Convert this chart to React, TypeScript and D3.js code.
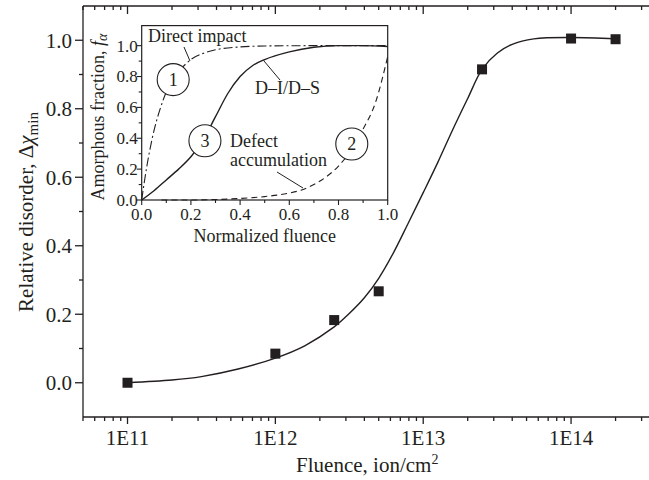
import React from "react";
import * as d3 from "d3";

// ---- Main chart data ----
const fluence = [1e11, 1e12, 2.5e12, 5e12, 2.5e13, 1e14, 2e14];
const disorder = [0.0, 0.085, 0.183, 0.267, 0.915, 1.005, 1.003];

// fitted curve
const fitFluence = [1e11, 2e11, 3.16e11, 5.6e11, 1e12, 1.58e12, 2.5e12, 3.16e12, 4e12, 5e12, 6.3e12, 7.9e12, 1e13, 1.26e13, 1.58e13, 2e13, 2.5e13, 3.16e13, 4e13, 5.6e13, 1e14, 2e14];
const fitDisorder = [0.0, 0.008, 0.018, 0.04, 0.072, 0.108, 0.163, 0.202, 0.248, 0.305, 0.38, 0.465, 0.555, 0.645, 0.738, 0.83, 0.915, 0.962, 0.988, 1.004, 1.008, 1.004];

const yTicks = [0, 0.2, 0.4, 0.6, 0.8, 1.0];
const yMinor = [0.1, 0.3, 0.5, 0.7, 0.9];
const xTicks = [1e11, 1e12, 1e13, 1e14];
const xTickLabels = ["1E11", "1E12", "1E13", "1E14"];

// ---- Inset data ----
const directX = [0.0, 0.01, 0.02, 0.035, 0.05, 0.075, 0.1, 0.13, 0.16, 0.2, 0.25, 0.3, 0.4, 0.5, 0.7, 1.0];
const directF = [0, 0.11, 0.21, 0.34, 0.45, 0.59, 0.7, 0.79, 0.85, 0.91, 0.95, 0.973, 0.992, 0.998, 1.0, 1.0];
const didsX = [0, 0.05, 0.1, 0.15, 0.2, 0.25, 0.3, 0.35, 0.4, 0.45, 0.5, 0.6, 0.7, 0.8, 0.9, 1.0];
const didsF = [0, 0.06, 0.13, 0.2, 0.28, 0.39, 0.54, 0.69, 0.8, 0.87, 0.91, 0.96, 0.99, 1.0, 1.0, 0.995];
const defectX = [0.08, 0.2, 0.3, 0.4, 0.5, 0.6, 0.65, 0.7, 0.75, 0.8, 0.85, 0.9, 0.95, 1.0];
const defectF = [0, 0.0, 0.003, 0.01, 0.022, 0.045, 0.065, 0.1, 0.15, 0.22, 0.32, 0.46, 0.63, 0.93];
const insetTicks = [0, 0.2, 0.4, 0.6, 0.8, 1.0];
const insetMinor = [0.1, 0.3, 0.5, 0.7, 0.9];

const INK = "#231f20";
const FONT = "'Liberation Serif', 'Times New Roman', serif";

export default function App() {
  const x = d3.scaleLog().domain([5e10, 3.5e14]).range([83, 651.5]);
  const y = d3.scaleLinear().domain([-0.1, 1.1]).range([417, 6]);
  const [x0, x1] = x.range();
  const [yb, yt] = y.range();

  const xMinor: number[] = [];
  for (let e = 10; e <= 14; e++) {
    for (let k = 2; k <= 9; k++) {
      const v = k * Math.pow(10, e);
      if (v >= 5e10 && v <= 3.5e14) xMinor.push(v);
    }
  }

  const fitLine = d3
    .line<number>()
    .x((_, i) => x(fitFluence[i]))
    .y((d) => y(d))
    .curve(d3.curveCatmullRom.alpha(0.5));

  // inset scales
  const ix = d3.scaleLinear().domain([0, 1]).range([141.7, 387.7]);
  const iy = d3.scaleLinear().domain([0, 1.13]).range([200, 25.6]);
  const [ix0, ix1] = ix.range();
  const [iyb, iyt] = iy.range();
  const mkLine = (xs: number[]) =>
    d3
      .line<number>()
      .x((_, i) => ix(xs[i]))
      .y((d) => iy(d))
      .curve(d3.curveMonotoneX);

  const circles = [
    { label: "1", x: 0.128, f: 0.78 },
    { label: "3", x: 0.257, f: 0.384 },
    { label: "2", x: 0.854, f: 0.363 },
  ];

  return (
    <svg
      width={649}
      height={480}
      style={{ position: "absolute", left: 0, top: 0, display: "block", background: "#fff" }}
      fontFamily={FONT}
      fill={INK}
    >
      <rect x={0} y={0} width={649} height={480} fill="#fff" />
      {/* main frame */}
      <g stroke={INK} strokeWidth={1.3} fill="none">
        <line x1={x0} y1={yb} x2={x1} y2={yb} />
        <line x1={x0} y1={yt} x2={x1} y2={yt} />
        <line x1={x0} y1={yt} x2={x0} y2={yb} />
        <line x1={x1} y1={yt} x2={x1} y2={yb} />
        {yTicks.map((t) => (
          <line key={"yt" + t} x1={x0 - 8} x2={x0} y1={y(t)} y2={y(t)} />
        ))}
        {yMinor.map((t) => (
          <line key={"ym" + t} x1={x0 - 4} x2={x0} y1={y(t)} y2={y(t)} />
        ))}
        {xTicks.map((t) => (
          <g key={"xt" + t}>
            <line x1={x(t)} x2={x(t)} y1={yb} y2={yb + 7} />
            <line x1={x(t)} x2={x(t)} y1={yt} y2={yt + 8} />
          </g>
        ))}
        {xMinor.map((t) => (
          <g key={"xm" + t}>
            <line x1={x(t)} x2={x(t)} y1={yb} y2={yb + 4} />
            <line x1={x(t)} x2={x(t)} y1={yt} y2={yt + 4} />
          </g>
        ))}
      </g>
      {yTicks.map((t) => (
        <text key={"yl" + t} x={72} y={y(t)} dy="0.35em" textAnchor="end" fontSize={21}>
          {t.toFixed(1)}
        </text>
      ))}
      {xTicks.map((t, i) => (
        <text key={"xl" + t} x={x(t)} y={445} textAnchor="middle" fontSize={21}>
          {xTickLabels[i]}
        </text>
      ))}
      <text x={(x0 + 651.5) / 2} y={472} textAnchor="middle" fontSize={21}>
        Fluence, ion/cm<tspan fontSize={14} dy={-8}>2</tspan>
      </text>
      <text transform={`translate(33,212) rotate(-90)`} textAnchor="middle" fontSize={21}>
        Relative disorder, Δ<tspan fontStyle="italic">χ</tspan>
        <tspan fontSize={15} dy={5}>min</tspan>
      </text>

      <path d={fitLine(fitDisorder) || ""} fill="none" stroke={INK} strokeWidth={1.4} />
      {fluence.map((f, i) => (
        <rect key={"pt" + i} x={x(f) - 5} y={y(disorder[i]) - 5} width={10} height={10} fill={INK} />
      ))}

      {/* ---- inset ---- */}
      <rect x={ix0} y={iyt} width={ix1 - ix0} height={iyb - iyt} fill="#fff" stroke={INK} strokeWidth={1.2} />
      <g stroke={INK} strokeWidth={1.1} fill="none">
        {insetTicks.map((t) => (
          <g key={"it" + t}>
            <line x1={ix0 - 5} x2={ix0} y1={iy(t)} y2={iy(t)} />
            <line x1={ix(t)} x2={ix(t)} y1={iyb} y2={iyb + 5} />
          </g>
        ))}
        {insetMinor.map((t) => (
          <g key={"im" + t}>
            <line x1={ix0 - 3} x2={ix0} y1={iy(t)} y2={iy(t)} />
            <line x1={ix(t)} x2={ix(t)} y1={iyb} y2={iyb + 3} />
          </g>
        ))}
        <path d={mkLine(directX)(directF) || ""} strokeWidth={1.1} strokeDasharray="9,3,2,3" />
        <path d={mkLine(defectX)(defectF) || ""} strokeWidth={1.1} strokeDasharray="6,4" />
        <path d={mkLine(didsX)(didsF) || ""} strokeWidth={1.4} />
        <line x1={184} y1={47} x2={190} y2={61} strokeWidth={1} />
        <line x1={264} y1={61} x2={280} y2={80} strokeWidth={1} />
        <line x1={277} y1={172} x2={303} y2={188} strokeWidth={1} />
      </g>
      {circles.map((c) => (
        <g key={"c" + c.label}>
          <circle cx={ix(c.x)} cy={iy(c.f)} r={16} fill="#fff" stroke={INK} strokeWidth={1.1} />
          <text x={ix(c.x)} y={iy(c.f)} dy="0.35em" textAnchor="middle" fontSize={18}>
            {c.label}
          </text>
        </g>
      ))}
      {insetTicks.map((t) => (
        <text key={"iyl" + t} x={ix0 - 4} y={iy(t)} dy="0.35em" textAnchor="end" fontSize={17}>
          {t.toFixed(1)}
        </text>
      ))}
      {insetTicks.map((t) => (
        <text key={"ixl" + t} x={ix(t)} y={220} textAnchor="middle" fontSize={17}>
          {t.toFixed(1)}
        </text>
      ))}
      <text x={ix(0.5)} y={242} textAnchor="middle" fontSize={18}>
        Normalized fluence
      </text>
      <text transform={`translate(104,117) rotate(-90)`} textAnchor="middle" fontSize={18}>
        Amorphous fraction, <tspan fontStyle="italic">f</tspan>
        <tspan fontStyle="italic" fontSize={14} dy={3}>α</tspan>
      </text>
      <text x={148} y={42} fontSize={18}>Direct impact</text>
      <text x={255} y={94} fontSize={18}>D–I/D–S</text>
      <text x={230} y={147} fontSize={18}>Defect</text>
      <text x={230} y={166} fontSize={18}>accumulation</text>
    </svg>
  );
}
